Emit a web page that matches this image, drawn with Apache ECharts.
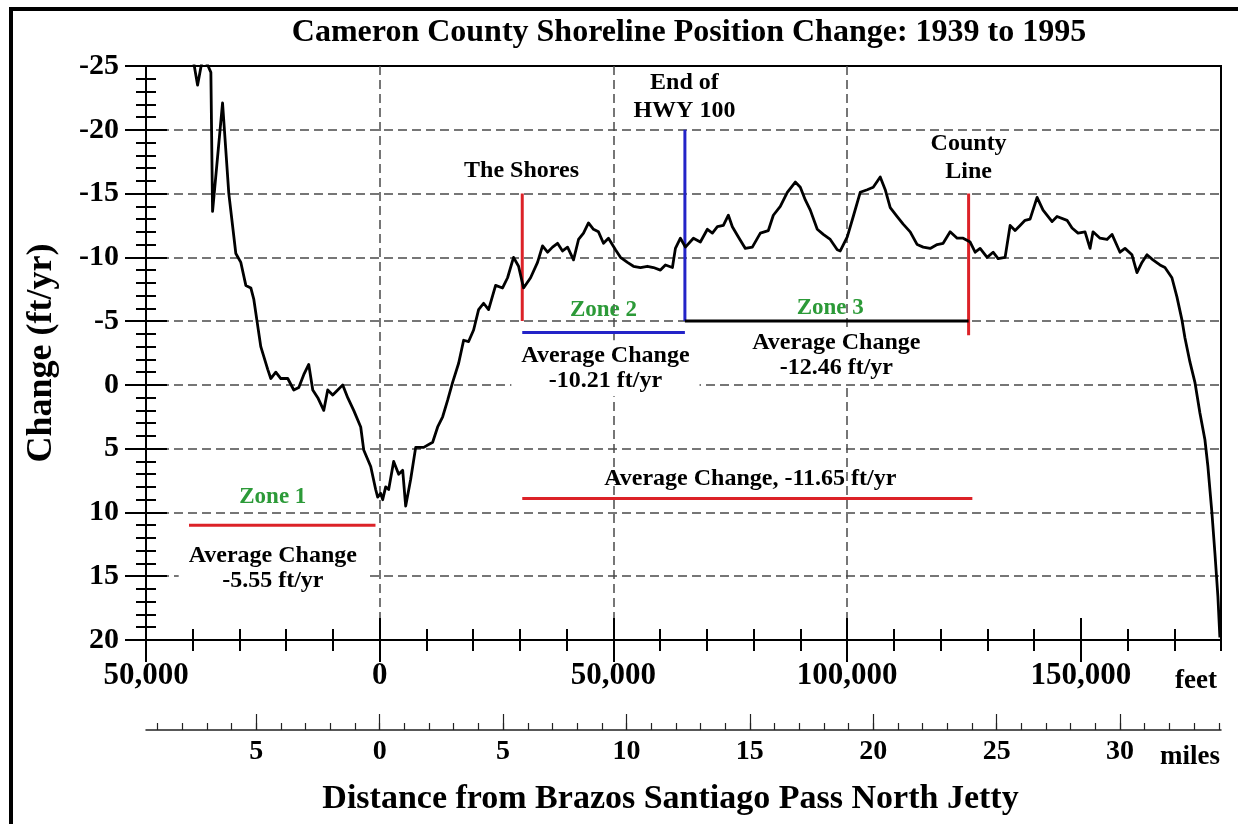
<!DOCTYPE html>
<html>
<head>
<meta charset="utf-8">
<title>Cameron County Shoreline Position Change</title>
<script src="https://cdn.jsdelivr.net/npm/echarts@6/dist/echarts.min.js"></script>
<style>
  html, body { margin: 0; padding: 0; background: #fff; }
  #chart { width: 1238px; height: 824px; }
</style>
</head>
<body>
<div id="chart"></div>
<script>
// Distance from the Brazos Santiago Pass north jetty (feet) and shoreline change rate (ft/yr)
const distanceFeet = [
  -40190, -39760, -38970, -37900, -36830, -36120, -35760, -33620, -32280, -30780,
  -29710, -28640, -27570, -26930, -25440, -23940, -23300, -22230, -21160, -19670,
  -18380, -17310, -16250, -15180, -14320, -13250, -11970, -11120, -10050, -8980,
  -7910, -6840, -5560, -4060, -3420, -1920, -860, -430,
  210, 640, 1280, 1920, 2990, 4060, 4920, 5560, 6630, 7700,
  9410, 11330, 12400, 13470, 14540, 15600, 16890, 17960, 19020, 20090,
  21160, 22230, 23300, 24800, 26290, 27360, 28640, 29710, 30780, 32280,
  33770, 34840, 35910, 36980, 38050, 39120, 40190, 41470, 42540, 43610,
  44670, 45740, 46810, 47880, 48950, 50450, 51510, 53010, 54290, 55790,
  57280, 58570, 60060, 61130, 62630, 63270, 64340,
  65410, 67120, 68610, 70110, 71180, 72250, 73530, 74600, 75450, 76740,
  78230, 79730, 81440, 83150, 84220, 85710, 87210, 88920, 89990, 91060,
  92130, 93620, 94910, 96400, 97900, 98540, 100040, 101320, 102810, 104310,
  105590, 107090, 108160, 109230, 110720, 112000, 113500, 115000, 116280, 117780,
  119270, 120550, 122050, 123550, 124830, 126330, 127400, 128460, 129960, 131240,
  132310,
  133810, 134880, 135950, 137010, 138080, 139150, 140650, 141930, 143860, 144920,
  147060, 148130, 149410, 150910, 151980, 152620, 154120, 155610, 156680, 158390,
  159460, 160950, 162020, 163090, 164160, 165440, 166940, 168010, 169500, 170570,
  171640, 172280, 173350, 174420, 175490, 176560, 177200, 178050, 178700, 179340,
  179760
];
const changeFtYr = [
  -27.0, -25.2, -23.5, -25.6, -25.1, -24.5, -13.6, -22.1, -15.0, -10.3,
  -9.6, -7.8, -7.6, -6.7, -3.0, -1.2, -0.5, -1.0, -0.5, -0.5,
  0.4, 0.2, -0.8, -1.6, 0.4, 1.0, 2.0, 0.4, 0.8, 0.4,
  0.0, 1.0, 2.0, 3.3, 5.1, 6.4, 8.2, 8.8,
  8.5, 9.0, 8.0, 8.2, 6.0, 7.0, 6.7, 9.5, 7.4, 4.9,
  4.9, 4.5, 3.3, 2.5, 1.2, -0.2, -1.7, -3.5, -3.4, -4.3,
  -5.9, -6.4, -5.9, -7.8, -7.6, -8.4, -10.0, -9.3, -7.6, -8.4,
  -9.6, -10.9, -10.4, -10.8, -11.1, -10.5, -10.8, -9.8, -11.4, -11.9,
  -12.7, -12.2, -12.0, -11.1, -11.5, -10.6, -10.0, -9.6, -9.3, -9.2,
  -9.3, -9.2, -9.0, -9.4, -9.2, -10.7, -11.5,
  -10.8, -11.5, -11.2, -12.2, -11.9, -12.4, -12.5, -13.3, -12.4, -11.6,
  -10.7, -10.8, -11.9, -12.1, -13.3, -14.0, -15.1, -15.9, -15.5, -14.5,
  -13.7, -12.2, -11.8, -11.4, -10.6, -10.5, -11.6, -13.2, -15.1, -15.3,
  -15.5, -16.3, -15.3, -13.9, -13.2, -12.6, -12.0, -11.0, -10.8, -10.7,
  -11.0, -11.1, -12.0, -11.5, -11.5, -11.2, -10.4, -10.7, -10.0, -10.4,
  -9.9,
  -10.0, -12.5, -12.1, -12.5, -12.9, -13.0, -14.7, -13.7, -12.8, -13.2,
  -12.9, -12.3, -11.9, -12.0, -10.7, -12.0, -11.5, -11.4, -11.8, -10.4,
  -10.7, -10.2, -8.8, -9.6, -10.2, -9.8, -9.4, -9.2, -8.4, -6.9,
  -5.1, -3.7, -1.8, -0.2, 2.2, 4.3, 6.4, 10.0, 13.2, 16.6,
  19.8
];

// Landmark markers and zone bars, in [feet, ft/yr]
const shoresMarker = [[30500, -15], [30500, -5]];
const hwyMarker = [[65300, -20], [65300, -5]];
const countyMarker = [[126000, -15], [126000, -3.9]];
const zone1Bar = [[-40800, 11.0], [-900, 11.0]];
const zone2Bar = [[30500, -4.1], [65300, -4.1]];
const zone3Bar = [[65300, -5], [126000, -5]];
const allZonesBar = [[30500, 8.9], [126800, 8.9]];

// Annotation texts and their anchors, in [feet, ft/yr]
const landmarkTexts = ['The Shores', 'End of\nHWY 100', 'County\nLine'];
const landmarkAnchors = [[30350, -16.8], [65200, -22.6], [126000, -17.8]];
const zoneTexts = ['Zone 1', 'Zone 2', 'Zone 3'];
const zoneAnchors = [[-22870, 8.8], [47880, -5.9], [96400, -6.0]];
const averageTexts = ['Average Change\n-5.55 ft/yr', 'Average Change\n-10.21 ft/yr', 'Average Change\n-12.46 ft/yr'];
const averageAnchors = [[-22870, 14.35], [48300, -1.3], [97700, -2.35]];
const overallText = 'Average Change, -11.65 ft/yr';
const overallAnchor = [79300, 7.4];

// Axis ticks
const feetTicks = [-50000, 0, 50000, 100000, 150000];
const mileLabelTicks = [-5, 0, 5, 10, 15, 20, 25, 30];
const mileMinorTicks = Array.from({ length: 44 }, (_, i) => i - 9);
const FEET_PER_MILE = 5280;
const feetMin = -50000, feetMax = 180000;

const SERIF = "'Liberation Serif', 'Times New Roman', serif";
const INK = '#000';
const RED = '#dc2228';
const BLUE = '#2323c8';
const GREEN = '#2c9a38';

const curve = distanceFeet.map((d, i) => [d, changeFtYr[i]]);

function segment(name, data, color) {
  return {
    name, type: 'line', data, symbol: 'none', silent: true, z: 4,
    lineStyle: { color, width: 3 }
  };
}

function textSeries(name, texts, anchors, style) {
  return {
    name, type: 'scatter', symbolSize: 0, silent: true, z: 6,
    itemStyle: { opacity: 1 },
    data: anchors.map((a, i) => ({ value: a, label: { formatter: texts[i] } })),
    label: Object.assign({
      show: true, position: 'inside', fontFamily: SERIF, fontWeight: 'bold',
      fontSize: 24, color: INK, opacity: 1, textBorderWidth: 0,
      align: 'center', verticalAlign: 'middle'
    }, style)
  };
}

const dash = { color: '#4a4a4a', type: [9, 5], width: 1.5 };
const hidden = { show: false };
const noZeroLine = { show: false, onZero: false };

function feetAxis(extra) {
  return Object.assign({
    type: 'value', gridIndex: 0, position: 'bottom', min: feetMin, max: feetMax,
    axisLine: noZeroLine, axisLabel: hidden, splitLine: hidden
  }, extra);
}
function mileAxis(extra) {
  return Object.assign({
    type: 'value', gridIndex: 0, position: 'bottom', offset: 90,
    min: feetMin / FEET_PER_MILE, max: feetMax / FEET_PER_MILE,
    axisLine: noZeroLine, axisLabel: hidden, splitLine: hidden
  }, extra);
}

const chart = echarts.init(document.getElementById('chart'), null, { renderer: 'canvas' });

chart.setOption({
  animation: false,
  backgroundColor: '#fff',
  title: {
    text: 'Cameron County Shoreline Position Change: 1939 to 1995',
    left: 684, top: 12, textAlign: 'center',
    textStyle: { fontFamily: SERIF, fontWeight: 'bold', fontSize: 32, color: INK }
  },
  grid: {
    left: 146, right: 17, top: 66, bottom: 184,
    containLabel: false, outerBoundsMode: 'none',
    show: true, borderColor: INK, borderWidth: 2, backgroundColor: 'transparent'
  },
  xAxis: [
    feetAxis({
      interval: 50000,
      axisLine: { show: true, onZero: false, lineStyle: { color: INK, width: 2 } },
      axisTick: { show: true, customValues: feetTicks, length: 22, lineStyle: { color: INK, width: 2 } },
      axisLabel: {
        show: true, customValues: feetTicks, margin: 20,
        formatter: v => Math.abs(v).toLocaleString('en-US'),
        fontFamily: SERIF, fontWeight: 'bold', fontSize: 31, color: INK
      },
      splitLine: { show: true, showMinLine: false, showMaxLine: false, lineStyle: dash }
    }),
    feetAxis({ interval: 10000, axisTick: { show: true, length: 11, lineStyle: { color: INK, width: 2 } } }),
    feetAxis({ interval: 10000, axisTick: { show: true, inside: true, length: 11, lineStyle: { color: INK, width: 2 } } }),
    feetAxis({ interval: 50000, axisTick: { show: true, inside: true, customValues: feetTicks, length: 22, lineStyle: { color: INK, width: 2 } } }),
    mileAxis({
      axisLine: { show: true, onZero: false, lineStyle: { color: '#222', width: 1.5 } },
      axisTick: { show: true, inside: true, customValues: mileMinorTicks, length: 7, lineStyle: { color: '#222', width: 1.2 } },
      name: 'Distance from Brazos Santiago Pass North Jetty',
      nameLocation: 'middle', nameGap: 52,
      nameTextStyle: { fontFamily: SERIF, fontWeight: 'bold', fontSize: 34, color: INK, padding: [0, 26, 0, 0] }
    }),
    mileAxis({
      axisTick: { show: true, inside: true, customValues: mileLabelTicks, length: 16, lineStyle: { color: '#222', width: 1.2 } },
      axisLabel: {
        show: true, customValues: mileLabelTicks, margin: 8,
        formatter: v => String(Math.abs(v)),
        fontFamily: SERIF, fontWeight: 'bold', fontSize: 28, color: INK
      }
    })
  ],
  yAxis: [
    {
      type: 'value', position: 'left', inverse: true, min: -25, max: 20, interval: 5,
      axisLine: { show: true, onZero: false, lineStyle: { color: INK, width: 2 } },
      axisTick: { show: true, length: 21, lineStyle: { color: INK, width: 2 } },
      minorTick: { show: true, splitNumber: 5, length: 10, lineStyle: { color: INK, width: 2 } },
      axisLabel: { margin: 27, fontFamily: SERIF, fontWeight: 'bold', fontSize: 30, color: INK },
      splitLine: { show: true, showMinLine: false, showMaxLine: false, lineStyle: dash },
      name: 'Change (ft/yr)', nameLocation: 'middle', nameRotate: 90, nameGap: 86,
      nameTextStyle: { fontFamily: SERIF, fontWeight: 'bold', fontSize: 36, color: INK }
    },
    {
      type: 'value', position: 'left', inverse: true, min: -25, max: 20, interval: 5,
      axisLine: noZeroLine, axisLabel: hidden, splitLine: hidden,
      axisTick: { show: true, inside: true, length: 21, lineStyle: { color: INK, width: 2 } },
      minorTick: { show: true, splitNumber: 5, length: 10, lineStyle: { color: INK, width: 2 } }
    }
  ],
  graphic: [
    {
      type: 'rect', x: 11, y: 9, silent: true, z: 100,
      shape: { x: 0, y: 0, width: 1400, height: 1000 },
      style: { fill: null, stroke: '#000', lineWidth: 4 }
    },
    {
      type: 'text', x: 1196, y: 681, silent: true,
      style: { text: 'feet', fontFamily: SERIF, fontWeight: 'bold', fontSize: 27, fill: INK, align: 'center', verticalAlign: 'middle' }
    },
    {
      type: 'text', x: 1190, y: 757, silent: true,
      style: { text: 'miles', fontFamily: SERIF, fontWeight: 'bold', fontSize: 27, fill: INK, align: 'center', verticalAlign: 'middle' }
    }
  ],
  series: [
    {
      name: 'Shoreline change', type: 'line', data: curve, symbol: 'none',
      silent: true, clip: true, z: 5,
      lineStyle: { color: '#000', width: 2.8, join: 'round' }
    },
    segment('The Shores', shoresMarker, RED),
    segment('End of HWY 100', hwyMarker, BLUE),
    segment('County Line', countyMarker, RED),
    segment('Zone 1', zone1Bar, RED),
    segment('Zone 2', zone2Bar, BLUE),
    segment('Zone 3', zone3Bar, INK),
    segment('Zones 2 and 3', allZonesBar, RED),
    textSeries('Landmarks', landmarkTexts, landmarkAnchors, { lineHeight: 28 }),
    textSeries('Zones', zoneTexts, zoneAnchors, { color: GREEN, fontSize: 23 }),
    textSeries('Zone averages', averageTexts, averageAnchors, {
      lineHeight: 25, backgroundColor: '#fff', padding: [3, 10, 3, 10]
    }),
    textSeries('Overall average', [overallText], [overallAnchor], {})
  ]
});
</script>
</body>
</html>
